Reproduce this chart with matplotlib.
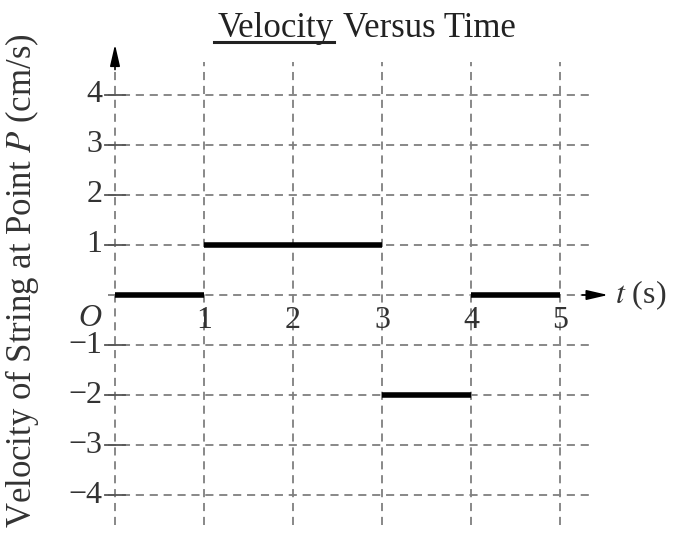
import matplotlib.pyplot as plt
import numpy as np

# velocity segments: (t_start, t_end, v)
seg_start = [0, 1, 3, 4]
seg_end = [1, 3, 4, 5]
seg_v = [0, 1, -2, 0]

x_ticks = [1, 2, 3, 4, 5]
y_ticks = [-4, -3, -2, -1, 1, 2, 3, 4]
y_labels = ['\u22124', '\u22123', '\u22122', '\u22121', '1', '2', '3', '4']

plt.rcParams['font.family'] = ['Liberation Serif', 'DejaVu Serif']

W, H = 675, 546
fig = plt.figure(figsize=(W / 100, H / 100), dpi=100)
ax = fig.add_axes([0, 0, 1, 1])
# pixel mapping: x=0 at 115px (89px/unit), y=0 at 295px (50.1px/unit)
ax.set_xlim(-115 / 89, (W - 115) / 89)
ax.set_ylim(-(H - 295) / 50.1, 295 / 50.1)
ax.axis('off')

grid_kw = dict(color='#7f7f7f', linewidth=1.3, linestyle=(0, (4.5, 3.2)))
x_left, x_right = -0.08, 5.36
y_bot, y_top = -4.6, 4.65

# horizontal grid lines
for y in y_ticks:
    ax.plot([x_left, x_right], [y, y], **grid_kw)
# vertical grid lines
for x in x_ticks:
    ax.plot([x, x], [y_bot, y_top], **grid_kw)

# axes (dashed) with arrows
ax.plot([0, 0], [y_bot, 4.6], **grid_kw)
ax.plot([x_left, 5.35], [0, 0], **grid_kw)
arrow = dict(arrowstyle='-|>,head_length=1.3,head_width=0.3',
             color='black', lw=1.2, shrinkA=0, shrinkB=0)
ax.annotate('', xy=(0, 5.0), xytext=(0, 4.5), arrowprops=arrow)
ax.annotate('', xy=(5.54, 0), xytext=(5.25, 0), arrowprops=arrow)

# tick crosses on y axis
for y in y_ticks:
    ax.plot([-0.11, 0.11], [y, y], color='#555555', linewidth=1.3)

# tick labels
fs = 23
for y, lab in zip(y_ticks, y_labels):
    ax.text(-0.14, y, lab, ha='right', va='center', fontsize=fs, color='#333333')
for x in x_ticks:
    ax.text(x, -0.5, str(x), ha='center', va='center', fontsize=fs, color='#333333')
ax.text(-0.28, -0.47, 'O', ha='center', va='center', fontsize=fs,
        style='italic', color='#333333')
ax.text(5.62, 0, '$\\mathit{t}$ (s)', ha='left', va='center', fontsize=fs,
        color='#333333', math_fontfamily='stix')

# velocity segments
for t0, t1, v in zip(seg_start, seg_end, seg_v):
    ax.plot([t0, t1], [v, v], color='black', linewidth=4, solid_capstyle='butt')

# y label
fig.text(22 / W, 1 - 281 / H, 'Velocity of String at Point $P$ (cm/s)',
         rotation=90, ha='center', va='center', fontsize=25, color='#333333',
         math_fontfamily='stix')

# title with underlined first word
t1 = fig.text(218 / W, 1 - 37 / H, 'Velocity', ha='left', va='baseline',
              fontsize=25, color='#222222')
fig.canvas.draw()
bb = t1.get_window_extent()
t2 = fig.text(bb.x1 / W + 9 / W, 1 - 37 / H, 'Versus Time', ha='left',
              va='baseline', fontsize=25, color='#222222')
uy = 1 - 42 / H
fig.add_artist(plt.Line2D([bb.x0 / W - 4 / W, bb.x1 / W], [uy, uy], color='#222222',
                          linewidth=2.2, transform=fig.transFigure))

fig.savefig('out.png', dpi=100)
